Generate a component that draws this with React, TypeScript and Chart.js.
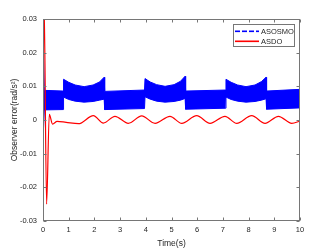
import React, { useEffect, useRef } from "react";
import { Chart, registerables } from "chart.js";

Chart.register(...registerables);

// ---- data ----
const xTickValues = [0, 1, 2, 3, 4, 5, 6, 7, 8, 9, 10];
const xTickLabels = ["0", "1", "2", "3", "4", "5", "6", "7", "8", "9", "10"];
const yTickValues = [-0.03, -0.02, -0.01, 0, 0.01, 0.02, 0.03];
const yTickLabels = ["-0.03", "-0.02", "-0.01", "0", "0.01", "0.02", "0.03"];

const asdoTime = [0, 0.04, 0.14, 0.245, 0.37, 0.55, 0.9, 1.38, 1.96, 2.35, 2.8, 3.32, 3.84, 4.36, 4.94, 5.4, 5.98, 6.5, 7.08, 7.54, 8.12, 8.64, 9.16, 9.68, 10];
const asdoValues = [0, 0.036, -0.025, 0.0017, -0.0012, -0.0004, -0.0007, -0.0011, 0.0013, -0.0009, 0.0011, -0.001, 0.0012, -0.001, 0.0011, -0.001, 0.0013, -0.001, 0.0011, -0.001, 0.0013, -0.001, 0.0011, -0.001, -0.0003];

// ASOSMO: envelope of the high-frequency chattering band
const asosmoTime = [
  0, 0.05, 0.78,
  0.8, 1.0, 1.25, 1.6, 1.95, 2.2, 2.38,
  2.4, 3.95,
  3.97, 4.17, 4.42, 4.75, 5.1, 5.35, 5.53,
  5.55, 7.1,
  7.12, 7.32, 7.57, 7.9, 8.25, 8.5, 8.68,
  8.7, 10,
];
const asosmoUpper = [
  0.028, 0.0088, 0.0086,
  0.0121, 0.0112, 0.0104, 0.0099, 0.0104, 0.0113, 0.0127,
  0.0085, 0.0089,
  0.0123, 0.0113, 0.0105, 0.01, 0.0105, 0.0115, 0.013,
  0.0086, 0.0089,
  0.0121, 0.0112, 0.0104, 0.0099, 0.0104, 0.0114, 0.0127,
  0.0086, 0.0091,
];
const asosmoLower = [
  -0.006, 0.003, 0.0031,
  0.0068, 0.0061, 0.0056, 0.0053, 0.0055, 0.0059, 0.0062,
  0.0031, 0.0034,
  0.0069, 0.0062, 0.0056, 0.0053, 0.0055, 0.0059, 0.0064,
  0.0032, 0.0035,
  0.0068, 0.0061, 0.0056, 0.0053, 0.0055, 0.0059, 0.0063,
  0.0032, 0.0036,
];

const FONT = "'Liberation Sans', Arial, Helvetica, sans-serif";
const TEXT = "#262626";
const AXIS = "#767676";
const BLUE = "#0000ff";
const RED = "#ff0000";

const framePlugin = {
  id: "matlabFrame",
  afterDraw(chart: any) {
    const { ctx, chartArea: a, scales } = chart;
    ctx.save();
    ctx.strokeStyle = AXIS;
    ctx.lineWidth = 1;
    ctx.setLineDash([]);
    const L = Math.round(a.left) + 0.5;
    const R = Math.round(a.right) - 0.5;
    const T = Math.round(a.top) + 0.5;
    const B = Math.round(a.bottom) - 0.5;
    ctx.strokeRect(L, T, R - L, B - T);
    const tl = 3;
    ctx.beginPath();
    xTickValues.forEach((v) => {
      const px = Math.round(scales.x.getPixelForValue(v)) + 0.5;
      ctx.moveTo(px, B);
      ctx.lineTo(px, B - tl);
      ctx.moveTo(px, T);
      ctx.lineTo(px, T + tl);
    });
    yTickValues.forEach((v) => {
      const py = Math.round(scales.y.getPixelForValue(v)) + 0.5;
      ctx.moveTo(L, py);
      ctx.lineTo(L + tl, py);
      ctx.moveTo(R, py);
      ctx.lineTo(R - tl, py);
    });
    ctx.stroke();

    // legend
    const items = [
      { text: chart.data.datasets[1].label, color: BLUE, dash: 5, gap: 2 },
      { text: chart.data.datasets[0].label, color: RED, dash: 24, gap: 0 },
    ];
    const bx = 233.5, by = 24.5, bw = 61, bh = 22;
    ctx.fillStyle = "#ffffff";
    ctx.fillRect(bx, by, bw, bh);
    ctx.strokeStyle = AXIS;
    ctx.strokeRect(bx, by, bw, bh);
    ctx.font = `7.5px ${FONT}`;
    ctx.textBaseline = "middle";
    ctx.textAlign = "left";
    items.forEach((it, i) => {
      const y = 30.5 + i * 10;
      ctx.fillStyle = it.color;
      for (let x = 235; x < 259; x += it.dash + it.gap) {
        ctx.fillRect(x, y, Math.min(it.dash, 259 - x), 1.6);
      }
      ctx.fillStyle = TEXT;
      ctx.fillText(it.text, 261, y + 1);
    });
    ctx.restore();
  },
};

export default function App() {
  const ref = useRef<HTMLCanvasElement | null>(null);
  useEffect(() => {
    if (!ref.current) return;
    const chart = new Chart(ref.current, {
      type: "line",
      data: {
        datasets: [
          {
            label: "ASDO",
            data: asdoTime.map((t, i) => ({ x: t, y: asdoValues[i] })),
            borderColor: RED,
            backgroundColor: RED,
            borderWidth: 1.2,
            pointRadius: 0,
            cubicInterpolationMode: "monotone",
            fill: false,
          },
          {
            label: "ASOSMO",
            data: asosmoTime.map((t, i) => ({ x: t, y: asosmoUpper[i] })),
            borderColor: BLUE,
            backgroundColor: BLUE,
            borderWidth: 1,
            pointRadius: 0,
            tension: 0,
            fill: "+1",
          },
          {
            label: "ASOSMO lower",
            data: asosmoTime.map((t, i) => ({ x: t, y: asosmoLower[i] })),
            borderColor: BLUE,
            backgroundColor: BLUE,
            borderWidth: 1,
            pointRadius: 0,
            tension: 0,
            fill: false,
          },
        ],
      },
      options: {
        animation: false,
        responsive: false,
        devicePixelRatio: 1,
        layout: { padding: { top: 19, right: 32, left: 0, bottom: 0 } },
        plugins: { legend: { display: false }, tooltip: { enabled: false } },
        scales: {
          x: {
            type: "linear",
            min: 0,
            max: 10,
            grid: { display: false, drawTicks: false },
            border: { display: false },
            afterFit: (s: any) => { s.height = 28; },
            afterBuildTicks: (s: any) => { s.ticks = xTickValues.map((v) => ({ value: v })); },
            ticks: {
              padding: 4,
              color: TEXT,
              font: { family: FONT, size: 7.5 },
              maxRotation: 0,
              autoSkip: false,
              callback: (_v: any, i: number) => xTickLabels[i],
            },
            title: {
              display: true,
              text: "Time(s)",
              color: TEXT,
              font: { family: FONT, size: 8.5 },
              padding: { top: 2.2, bottom: 0 },
            },
          },
          y: {
            type: "linear",
            min: -0.03,
            max: 0.03,
            grid: { display: false, drawTicks: false },
            border: { display: false },
            afterFit: (s: any) => { s.width = 43; },
            afterBuildTicks: (s: any) => { s.ticks = yTickValues.map((v) => ({ value: v })); },
            ticks: {
              padding: 6,
              color: TEXT,
              font: { family: FONT, size: 7.5 },
              autoSkip: false,
              callback: (_v: any, i: number) => yTickLabels[i],
            },
            title: {
              display: true,
              text: "Observer error(rad/s\u00B2)",
              color: TEXT,
              font: { family: FONT, size: 8.5 },
              padding: { top: 10, bottom: 0 },
            },
          },
        },
      },
      plugins: [framePlugin],
    } as any);
    return () => chart.destroy();
  }, []);
  return (
    <div style={{ position: "absolute", left: 0, top: 0, width: 332, height: 249, background: "#fff" }}>
      <canvas ref={ref} width={332} height={249} style={{ display: "block", width: 332, height: 249 }} />
    </div>
  );
}
